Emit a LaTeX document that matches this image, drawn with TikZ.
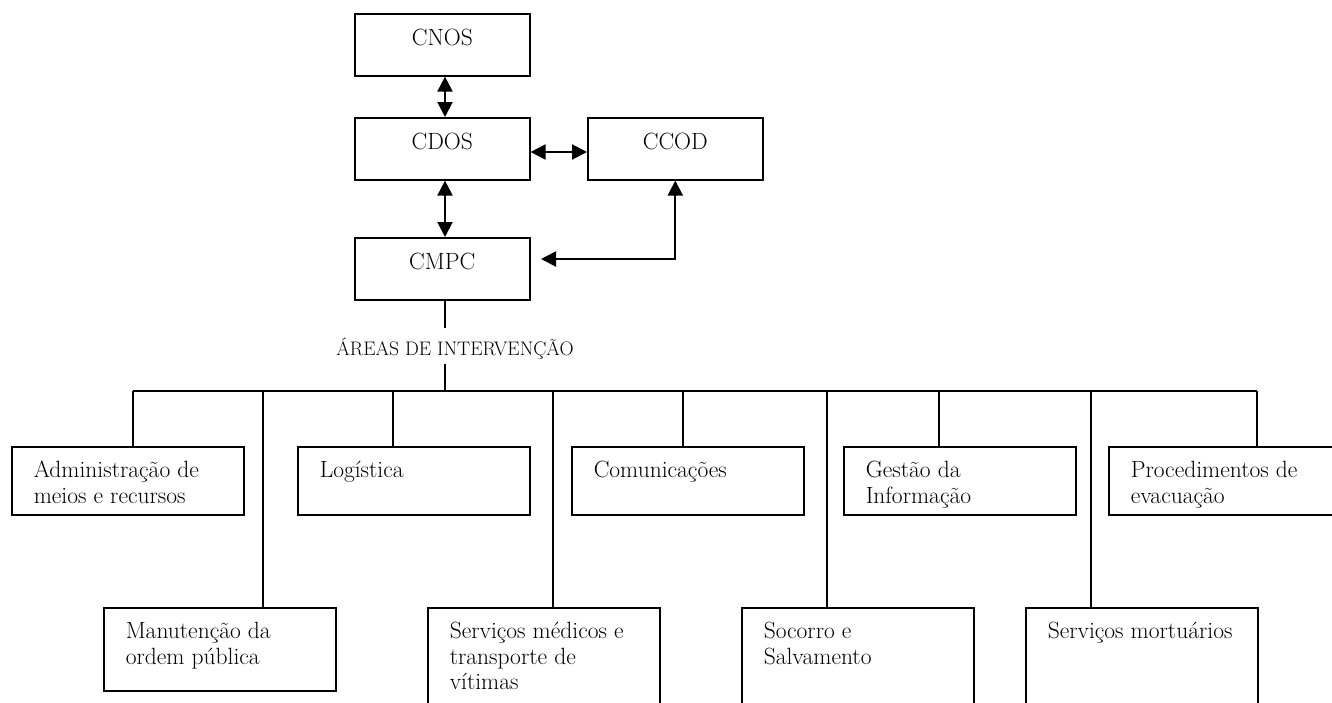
\documentclass[tikz,border=0pt]{standalone}
\usetikzlibrary{arrows.meta}
\newcommand{\toptxt}[1]{\parbox[c][62pt][t]{175pt}{\centering\rule{0pt}{32pt}#1}}
\newcommand{\areatxt}[2]{\parbox[c][#1][t]{232pt}{\raggedright\leftskip=22pt\rule{0pt}{31pt}#2}}
\tikzset{
  topbox/.style={draw, line width=1.6pt, inner sep=0pt, anchor=north west,
    font=\fontsize{23.5}{25.5}\selectfont},
  areabox/.style={draw, line width=1.5pt, inner sep=0pt, anchor=north west,
    font=\fontsize{23.5}{25.5}\selectfont},
  dbl/.style={line width=2pt, {Triangle[length=15pt,width=15pt]}-{Triangle[length=15pt,width=15pt]}},
  tree/.style={line width=1.3pt},
}
\begin{document}
\begin{tikzpicture}[x=1pt,y=-1pt]
\useasboundingbox (0,0) rectangle (1332,702);
\clip (0,0) rectangle (1332,702);

% command chain
\node[topbox] (cnos) at (354,13)  {\toptxt{CNOS}};
\node[topbox] (cdos) at (354,117) {\toptxt{CDOS}};
\node[topbox] (ccod) at (587,117) {\toptxt{CCOD}};
\node[topbox] (cmpc) at (354,237) {\toptxt{CMPC}};

\coordinate (ax) at (445,0);
\coordinate (hy) at (0,152);
\coordinate (cm) at (541,259);

\draw[dbl] (cnos.south -| ax) -- (cdos.north -| ax);
\draw[dbl] (cdos.south -| ax) -- (cmpc.north -| ax);
\draw[dbl] (cdos.east |- hy) -- (ccod.west |- hy);
\draw[dbl] (cm) -| (ccod.south);

% label and bus
\node[font=\fontsize{19.6}{22}\selectfont, anchor=base, inner sep=0pt] (lab) at (455,355)
  {\'AREAS DE INTERVEN\c{C}\~AO};
\coordinate (l1) at (445,328);
\coordinate (l2) at (445,364);
\coordinate (bus) at (445,391);
\coordinate (bL) at (133,391);
\coordinate (bR) at (1257,391);
\draw[tree] (cmpc.south -| ax) -- (l1);
\draw[tree] (l2) -- (bus);
\draw[tree] (bL) -- (bR);

% first row areas
\node[areabox] (adm) at (11,446)   {\areatxt{68pt}{Administra\c{c}\~ao de\\meios e recursos}};
\node[areabox] (log) at (297,446)  {\areatxt{68pt}{Log\'{\i}stica}};
\node[areabox] (com) at (571,446)  {\areatxt{68pt}{Comunica\c{c}\~oes}};
\node[areabox] (ges) at (843,446)  {\areatxt{68pt}{Gest\~ao da\\Informa\c{c}\~ao}};
\node[areabox] (pro) at (1108,446) {\areatxt{68pt}{Procedimentos de\\evacua\c{c}\~ao}};

% second row areas
\node[areabox] (man) at (103,607)  {\areatxt{83pt}{Manuten\c{c}\~ao da\\ordem p\'ublica}};
\node[areabox] (med) at (427,607)  {\areatxt{115pt}{Servi\c{c}os m\'edicos e\\transporte de\\v\'{\i}timas}};
\node[areabox] (soc) at (741,607)  {\areatxt{115pt}{Socorro e\\Salvamento}};
\node[areabox] (mor) at (1025,607) {\areatxt{115pt}{Servi\c{c}os mortu\'arios}};

% drops
\coordinate (dAdm) at (133,391);
\coordinate (dLog) at (393,391);
\coordinate (dCom) at (683,391);
\coordinate (dGes) at (939,391);
\coordinate (dPro) at (1257,391);
\coordinate (dMan) at (263,391);
\coordinate (dMed) at (553,391);
\coordinate (dSoc) at (827,391);
\coordinate (dMor) at (1091,391);

\draw[tree] (dAdm) -- (dAdm |- adm.north);
\draw[tree] (dLog) -- (dLog |- log.north);
\draw[tree] (dCom) -- (dCom |- com.north);
\draw[tree] (dGes) -- (dGes |- ges.north);
\draw[tree] (dPro) -- (dPro |- pro.north);
\draw[tree] (dMan) -- (dMan |- man.north);
\draw[tree] (dMed) -- (dMed |- med.north);
\draw[tree] (dSoc) -- (dSoc |- soc.north);
\draw[tree] (dMor) -- (dMor |- mor.north);
\end{tikzpicture}
\end{document}
